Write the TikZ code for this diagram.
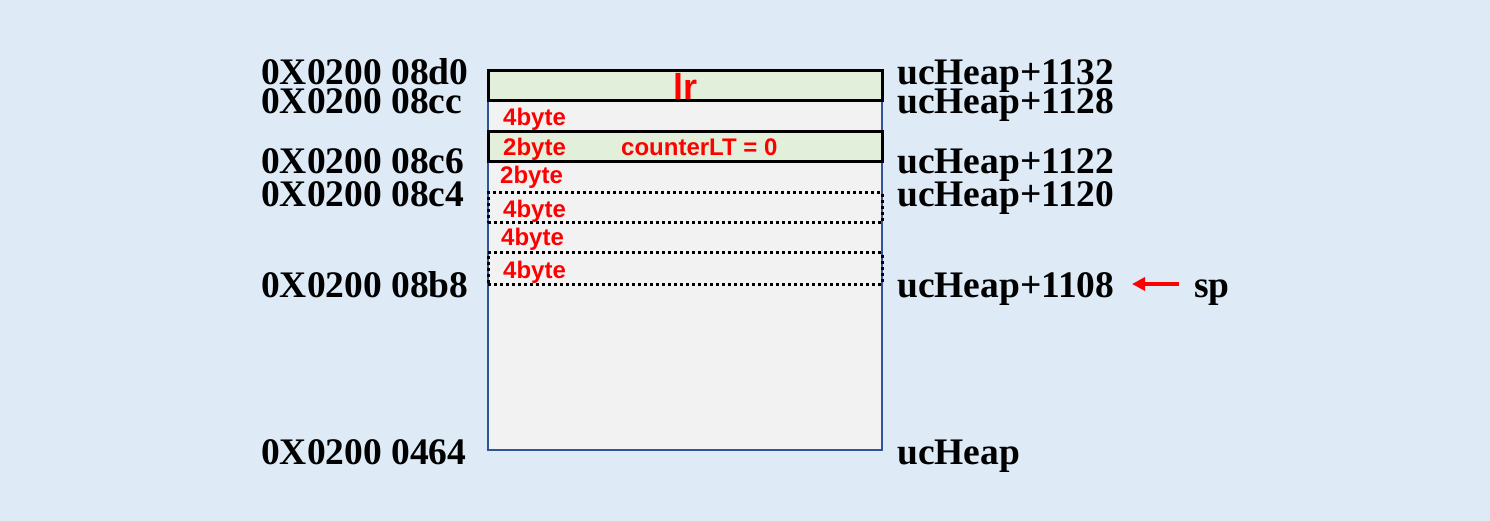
\documentclass[tikz,border=0pt]{standalone}
\usepackage{fontspec}
\setmainfont{Liberation Serif}
\newfontfamily\lsans{Liberation Sans}
\usetikzlibrary{arrows.meta}
\definecolor{bgc}{HTML}{DEEBF7}
\definecolor{cellc}{HTML}{F2F2F2}
\definecolor{greenc}{HTML}{E2EFDA}
\definecolor{bluec}{HTML}{2F5597}
\definecolor{redc}{HTML}{FF0000}
\tikzset{
  addr/.style={anchor=base west, inner sep=0pt, font=\fontsize{37.5}{37.5}\selectfont\bfseries},
  bytel/.style={anchor=base west, inner sep=0pt, text=redc, font=\lsans\fontsize{24}{24}\selectfont\bfseries},
  solidbox/.style={draw=black, line width=3pt, fill=greenc},
  dotbox/.style={draw=black, line width=3pt, dash pattern=on 3pt off 3pt},
}
\begin{document}
\begin{tikzpicture}[x=1pt,y=-1pt]
\useasboundingbox[fill=bgc] (0,0) rectangle (1490,521);
% main stack area
\path[fill=cellc, draw=bluec, line width=2pt] (488,90) rectangle (882,450);
\node[solidbox, minimum width=394pt, minimum height=30pt, inner sep=0pt] (lrbox) at (685,86) {};
\node[solidbox, minimum width=394pt, minimum height=30pt, inner sep=0pt] (cntbox) at (685,147) {};
\node[dotbox, minimum width=394pt, minimum height=30pt, inner sep=0pt] (dot1) at (685,208) {};
\node[dotbox, minimum width=394pt, minimum height=31pt, inner sep=0pt] (dot2) at (685,268.5) {};
% texts in cells
\node[anchor=base, inner sep=0pt, text=redc, font=\lsans\fontsize{36}{36}\selectfont\bfseries] (lr) at (685,99.5) {lr};
\node[bytel] (b1) at (503,126) {4byte};
\node[bytel] (b2) at (503,156) {2byte};
\node[bytel] (cnt) at (621,156) {counterLT = 0};
\node[bytel] (b3) at (500,184) {2byte};
\node[bytel] (b4) at (503,218) {4byte};
\node[bytel] (b5) at (501,246) {4byte};
\node[bytel] (b6) at (503,278) {4byte};
% left addresses
\node[addr] (a1) at (261,85) {0X0200 08d0};
\node[addr] (a2) at (261,114) {0X0200 08cc};
\node[addr] (a3) at (261,174) {0X0200 08c6};
\node[addr] (a4) at (261,207) {0X0200 08c4};
\node[addr] (a5) at (261,297) {0X0200 08b8};
\node[addr] (a6) at (261,464) {0X0200 0464};
% right offsets
\node[addr] (r1) at (897,85) {ucHeap+1132};
\node[addr] (r2) at (897,114) {ucHeap+1128};
\node[addr] (r3) at (897,174) {ucHeap+1122};
\node[addr] (r4) at (897,207) {ucHeap+1120};
\node[addr] (r5) at (897,297) {ucHeap+1108};
\node[addr] (r6) at (897,464) {ucHeap};
% sp pointer
\node[addr] (sp) at (1194,297) {sp};
\coordinate (spfrom) at (1179,284);
\coordinate (spto) at (1132,284);
\draw[redc, line width=4pt, -{Triangle[length=13pt,width=13pt]}] (spfrom) -- (spto);
\end{tikzpicture}
\end{document}
